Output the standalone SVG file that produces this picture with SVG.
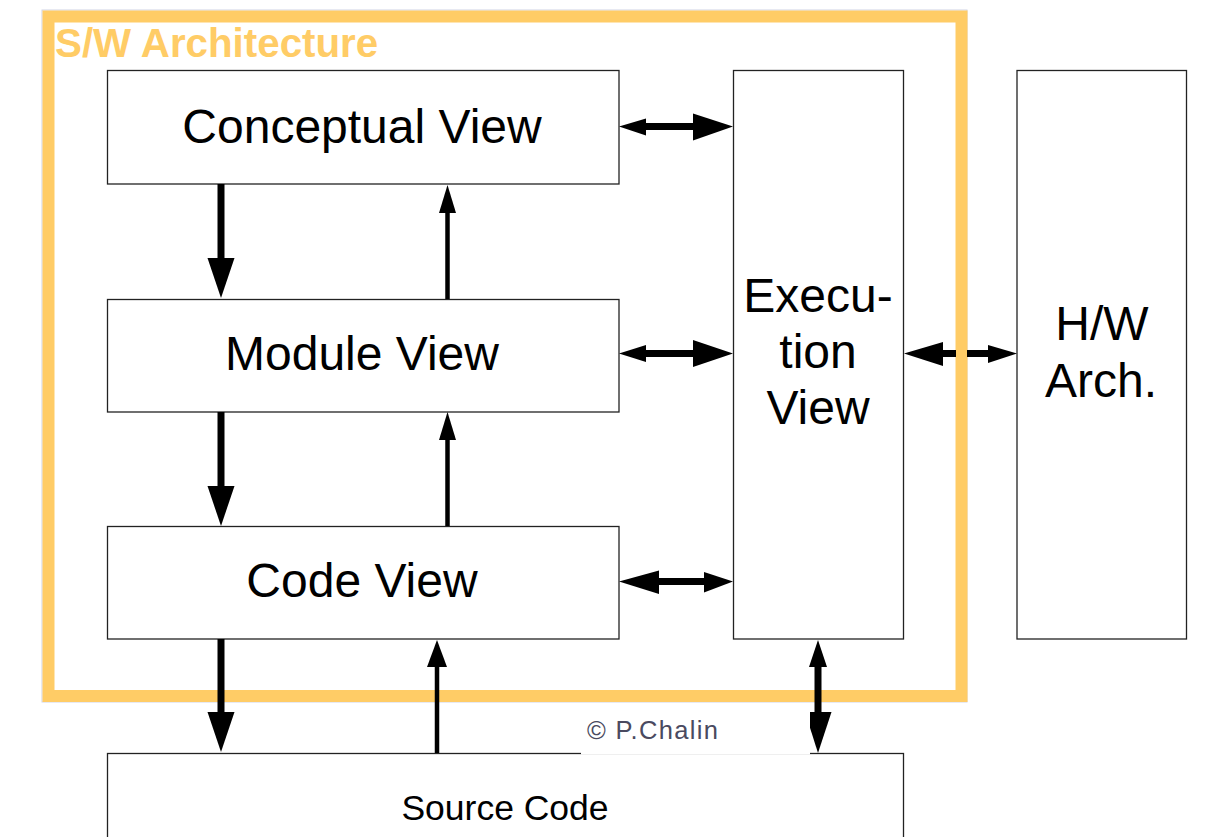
<svg xmlns="http://www.w3.org/2000/svg" width="1207" height="837" viewBox="0 0 1207 837">
<style>
.box{fill:#fff;stroke:#222;stroke-width:1.3}
.lbl{font-family:"Liberation Sans",Arial,sans-serif;font-size:48px;fill:#000;text-anchor:middle}
.thick{stroke:#000;stroke-width:7;fill:none}
.thin{stroke:#000;stroke-width:4.5;fill:none}
.head{fill:#000;stroke:none}
</style>
<rect width="1207" height="837" fill="#fff"/>
<g id="frame">
<rect x="42" y="10" width="925" height="692" fill="none" stroke="#d0d4e6" stroke-width="1"/>
<rect x="48.5" y="16.5" width="913" height="679.5" fill="none" stroke="#FFCC66" stroke-width="12"/>
<text x="55" y="57" style="font-family:'Liberation Sans',Arial,sans-serif;font-size:40.3px;font-weight:bold;fill:#FFCC66">S/W Architecture</text>
</g>
<g id="conceptual">
<rect class="box" x="107.5" y="70.5" width="511.5" height="113.5"/>
<text class="lbl" x="362" y="143">Conceptual View</text>
</g>
<g id="module">
<rect class="box" x="107.5" y="299.5" width="511.5" height="112.5"/>
<text class="lbl" x="362" y="370">Module View</text>
</g>
<g id="code">
<rect class="box" x="107.5" y="526.5" width="511.5" height="112.5"/>
<text class="lbl" x="362" y="597">Code View</text>
</g>
<g id="execution">
<rect class="box" x="733.5" y="70.5" width="170" height="568.5"/>
<text class="lbl" x="818" y="312">Execu-</text>
<text class="lbl" x="818" y="368">tion</text>
<text class="lbl" x="818" y="424">View</text>
</g>
<g id="hw">
<rect class="box" x="1017" y="70.5" width="169.5" height="568.5"/>
<text class="lbl" x="1102" y="340">H/W</text>
<text class="lbl" x="1101" y="397">Arch.</text>
</g>
<g id="source">
<rect class="box" x="107.5" y="753.5" width="796" height="100"/>
<text class="lbl" x="505" y="820" style="font-size:35.5px">Source Code</text>
</g>
<g id="connectors">
<line class="thick" x1="221" y1="184" x2="221" y2="262"/>
<polygon class="head" points="207.5,258 234.5,258 221,298"/>
<line class="thin" x1="447.5" y1="299" x2="447.5" y2="210"/>
<polygon class="head" points="439,213 456,213 447.5,185"/>
<line class="thick" x1="221" y1="412" x2="221" y2="490"/>
<polygon class="head" points="207.5,486 234.5,486 221,526"/>
<line class="thin" x1="447.5" y1="526" x2="447.5" y2="437"/>
<polygon class="head" points="439,440 456,440 447.5,412"/>
<line class="thick" x1="221" y1="639" x2="221" y2="716"/>
<polygon class="head" points="207.5,712 234.5,712 221,752"/>
<line class="thin" x1="437" y1="753" x2="437" y2="664"/>
<polygon class="head" points="427,667 447,667 437,640"/>
<line class="thick" x1="640" y1="126.5" x2="697" y2="126.5"/>
<polygon class="head" points="619,126.5 646,118.5 646,135.5"/>
<polygon class="head" points="733,126.5 693,113.5 693,140.5"/>
<line class="thick" x1="640" y1="353.5" x2="697" y2="353.5"/>
<polygon class="head" points="619,353.5 646,345 646,362"/>
<polygon class="head" points="733,353.5 693,340 693,367"/>
<line class="thick" x1="655" y1="581.5" x2="710" y2="581.5"/>
<polygon class="head" points="619,581.5 659,570.5 659,594"/>
<polygon class="head" points="733,581.5 704,572 704,592.5"/>
<line class="thick" x1="938" y1="353.5" x2="993" y2="353.5"/>
<polygon class="head" points="904,353.5 943,342 943,366"/>
<polygon class="head" points="1017,353.5 988,345 988,363"/>
<line class="thick" x1="818" y1="660" x2="818" y2="716"/>
<polygon class="head" points="818,640 809,667 827,667"/>
<polygon class="head" points="818,753 805,712 831.5,712"/>
</g>
<g id="credit">
<rect x="581" y="706" width="229" height="48.5" fill="#fff"/>
<text x="587" y="739" textLength="131" style="font-family:'Liberation Sans',Arial,sans-serif;font-size:25.5px;fill:#4a4a60">© P.Chalin</text>
</g>
<rect x="956" y="340" width="11" height="27" fill="#FFCC66"/>
</svg>
